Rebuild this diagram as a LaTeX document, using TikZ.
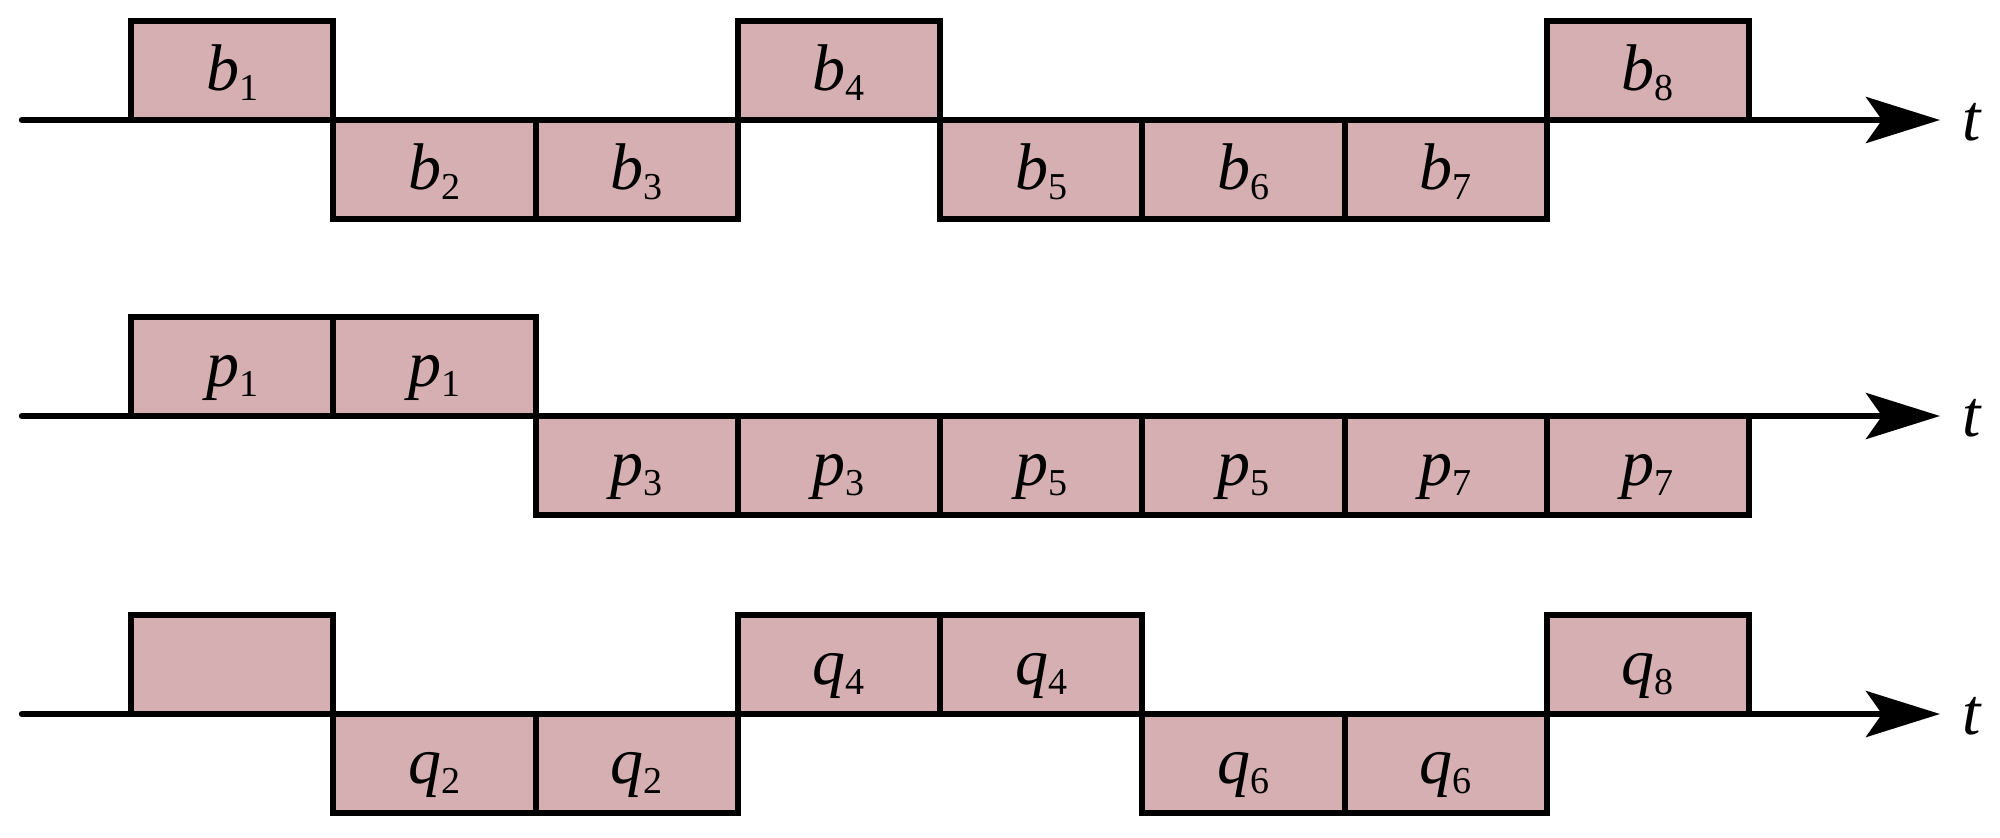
\documentclass[tikz,border=0pt]{standalone}
\usepackage{fontspec}
\setmainfont{Liberation Serif}
\usetikzlibrary{arrows.meta}
\definecolor{cellfill}{HTML}{D5AFB1}
\newcommand\lbl[2]{\textit{#1}\raisebox{-5pt}{\fontsize{19}{20}\selectfont #2}}
\newcommand\mkcell[5]{%
  \node[cellbox] (#1) at ({131+202.25*(#2-0.5)},{#3+#4*49.5}) {};
  \node[lab] (#1l) at ([yshift=-10pt]#1.center) {#5};
}
\begin{document}
\begin{tikzpicture}[x=0.5pt,y=-0.5pt,
  cellbox/.style={draw=black,fill=cellfill,line width=3pt,inner sep=0pt,
    minimum width=101.125pt,minimum height=49.5pt},
  lab/.style={anchor=base,inner sep=0pt,font=\fontsize{33}{38}\selectfont},
  axisline/.style={line width=3.2pt,line cap=round,
    -{Stealth[length=37pt,width=23pt,inset=8pt]}},
  tlab/.style={anchor=base,inner sep=0pt,font=\fontsize{33}{38}\selectfont\itshape}]
\useasboundingbox (0,0) rectangle (2000,837);
% row 1
\mkcell{a1}{1}{120}{-1}{\lbl{b}{1}}
\mkcell{a2}{2}{120}{1}{\lbl{b}{2}}
\mkcell{a3}{3}{120}{1}{\lbl{b}{3}}
\mkcell{a4}{4}{120}{-1}{\lbl{b}{4}}
\mkcell{a5}{5}{120}{1}{\lbl{b}{5}}
\mkcell{a6}{6}{120}{1}{\lbl{b}{6}}
\mkcell{a7}{7}{120}{1}{\lbl{b}{7}}
\mkcell{a8}{8}{120}{-1}{\lbl{b}{8}}
% row 2
\mkcell{b1}{1}{416}{-1}{\lbl{p}{1}}
\mkcell{b2}{2}{416}{-1}{\lbl{p}{1}}
\mkcell{b3}{3}{416}{1}{\lbl{p}{3}}
\mkcell{b4}{4}{416}{1}{\lbl{p}{3}}
\mkcell{b5}{5}{416}{1}{\lbl{p}{5}}
\mkcell{b6}{6}{416}{1}{\lbl{p}{5}}
\mkcell{b7}{7}{416}{1}{\lbl{p}{7}}
\mkcell{b8}{8}{416}{1}{\lbl{p}{7}}
% row 3
\mkcell{c1}{1}{714}{-1}{}
\mkcell{c2}{2}{714}{1}{\lbl{q}{2}}
\mkcell{c3}{3}{714}{1}{\lbl{q}{2}}
\mkcell{c4}{4}{714}{-1}{\lbl{q}{4}}
\mkcell{c5}{5}{714}{-1}{\lbl{q}{4}}
\mkcell{c6}{6}{714}{1}{\lbl{q}{6}}
\mkcell{c7}{7}{714}{1}{\lbl{q}{6}}
\mkcell{c8}{8}{714}{-1}{\lbl{q}{8}}
% axes
\coordinate (s1) at (22,120);  \coordinate (e1) at (1940,120);
\coordinate (s2) at (22,416);  \coordinate (e2) at (1940,416);
\coordinate (s3) at (22,714);  \coordinate (e3) at (1940,714);
\draw[axisline] (s1) -- (e1);
\draw[axisline] (s2) -- (e2);
\draw[axisline] (s3) -- (e3);
\node[tlab] (t1) at (1972,140) {t};
\node[tlab] (t2) at (1972,436) {t};
\node[tlab] (t3) at (1972,734) {t};
\end{tikzpicture}
\end{document}
